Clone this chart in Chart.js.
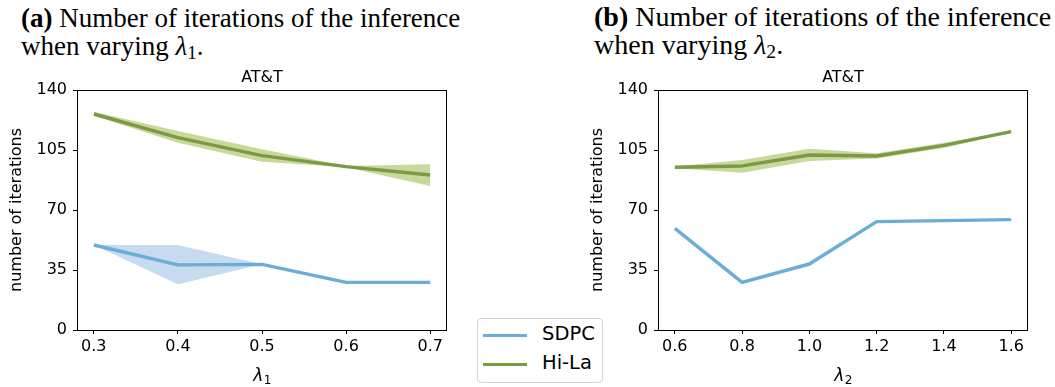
<!DOCTYPE html>
<html>
<head>
<meta charset="utf-8">
<script src="https://cdn.jsdelivr.net/npm/chart.js@4.4.1/dist/chart.umd.min.js"></script>
<style>
  html, body { margin: 0; padding: 0; background: #fff; }
  body { width: 1055px; height: 387px; position: relative; overflow: hidden; }
  .cap { position: absolute; font-family: "Liberation Serif", "Times New Roman", serif; font-size: 27px; line-height: 28px; color: #000; white-space: nowrap; }
  .cap b { font-weight: bold; }
  .cap sub { font-size: 0.7em; vertical-align: -0.2em; line-height: 0; }
  canvas { position: absolute; }
  #legend { position: absolute; left: 477px; top: 318px; width: 124px; height: 63px; border: 1px solid #d4d4d4; border-radius: 4px; background: #fff; font-family: "DejaVu Sans", sans-serif; font-size: 19.5px; color: #000; }
  .lg-line { position: absolute; left: 5px; width: 44px; height: 3px; }
  .lg-text { position: absolute; left: 64px; line-height: 22px; }
</style>
</head>
<body>
<div class="cap" id="capA" style="left:21px; top:3.6px;"><b>(a)</b> Number of iterations of the inference<br>when varying <i>λ</i><sub>1</sub>.</div>
<div class="cap" id="capB" style="left:594px; top:3.2px; font-size:28px;"><b>(b)</b> Number of iterations of the inference<br>when varying <i>λ</i><sub>2</sub>.</div>

<canvas id="c1" width="460" height="327" style="left:0px; top:60px; width:460px; height:327px;"></canvas>
<canvas id="c2" width="460" height="327" style="left:581px; top:60px; width:460px; height:327px;"></canvas>

<div id="legend">
  <div class="lg-line" style="top:14.5px; background:#6aaed6;"></div>
  <div class="lg-text" style="top:4px;">SDPC</div>
  <div class="lg-line" style="top:43.5px; background:#7b9a45;"></div>
  <div class="lg-text" style="top:33px;">Hi-La</div>
</div>

<script>
// ---------- data ----------
const seriesNames = ["SDPC", "Hi-La"];
const panelTitle = "AT&T";
const yAxisLabel = "number of iterations";
const yTicks = [0, 35, 70, 105, 140];

// (a) varying lambda1
const xLabel1 = ["λ", "1"];
const lambda1 = [0.3, 0.4, 0.5, 0.6, 0.7];
const sdpc1Mean = [49.6, 38.0, 38.3, 27.8, 27.8];
const sdpc1Low  = [49.6, 26.7, 38.3, 27.8, 27.8];
const sdpc1High = [49.6, 49.6, 38.3, 27.8, 27.8];
const hila1Mean = [126.0, 112.2, 101.7, 95.3, 90.4];
const hila1Low  = [125.0, 109.3, 98.2, 95.0, 84.0];
const hila1High = [127.3, 116.1, 105.4, 95.6, 96.7];

// (b) varying lambda2
const xLabel2 = ["λ", "2"];
const lambda2 = [0.6, 0.8, 1.0, 1.2, 1.4, 1.6];
const sdpc2Mean = [59.3, 27.8, 38.5, 63.2, 63.8, 64.4];
const sdpc2Low  = [59.3, 27.8, 38.5, 63.2, 63.8, 64.4];
const sdpc2High = [59.3, 27.8, 38.5, 63.2, 63.8, 64.4];
const hila2Mean = [94.9, 95.7, 102.1, 101.5, 107.7, 115.7];
const hila2Low  = [94.4, 91.8, 98.6, 100.0, 106.2, 115.4];
const hila2High = [95.4, 99.2, 105.8, 103.1, 109.3, 116.0];

// ---------- styling ----------
const BLUE = "#6aaed6", BLUE_BAND = "#c6dbef";
const GREEN = "#7b9a45", GREEN_BAND = "#c9d99c";
const FONT = "DejaVu Sans";

const pts = (xs, ys) => xs.map((x, i) => ({ x: x, y: ys[i] }));

const framePlugin = {
  id: "frame",
  afterDatasetsDraw(chart) {
    const a = chart.chartArea, ctx = chart.ctx;
    ctx.save();
    ctx.strokeStyle = "#000";
    ctx.lineWidth = 1;
    ctx.strokeRect(Math.round(a.left) + 0.5, Math.round(a.top) + 0.5,
                   Math.round(a.right - a.left) - 1, Math.round(a.bottom - a.top));
    ctx.restore();
  }
};

// x-axis label with a real subscript (math-style), drawn below the x scale
const subLabelPlugin = {
  id: "subLabel",
  afterDraw(chart, args, opts) {
    const parts = opts.parts;
    if (!parts) return;
    const a = chart.chartArea, ctx = chart.ctx;
    const xs = chart.scales.x;
    ctx.save();
    ctx.fillStyle = "#000";
    ctx.textBaseline = "alphabetic";
    ctx.textAlign = "left";
    const mainFont = "italic 17px '" + FONT + "'";
    const subFont = "12px '" + FONT + "'";
    ctx.font = mainFont; const w1 = ctx.measureText(parts[0]).width;
    ctx.font = subFont;  const w2 = ctx.measureText(parts[1]).width;
    const cx = (a.left + a.right) / 2;
    const x0 = cx - (w1 + w2) / 2;
    const base = xs.bottom - 6.3;
    ctx.font = mainFont; ctx.fillText(parts[0], x0, base);
    ctx.font = subFont;  ctx.fillText(parts[1], x0 + w1 + 0.5, base + 3.2);
    ctx.restore();
  }
};

function makeChart(id, xs, sMean, sLow, sHigh, hMean, hLow, hHigh, xLabel) {
  const span = xs[xs.length - 1] - xs[0];
  const line = (label, data, color, order) => ({
    label, data, borderColor: color, borderWidth: 3.4, pointRadius: 0,
    borderJoinStyle: "round", fill: false, tension: 0, order
  });
  const band = (label, data, fill, color, order) => ({
    label, data, borderWidth: 0, borderColor: "rgba(0,0,0,0)", pointRadius: 0,
    fill, backgroundColor: color, tension: 0, order
  });
  return new Chart(document.getElementById(id), {
    type: "line",
    data: {
      datasets: [
        line(seriesNames[0], pts(xs, sMean), BLUE, 1),
        line(seriesNames[1], pts(xs, hMean), GREEN, 0),
        band("sLow", pts(xs, sLow), false, BLUE_BAND, 5),
        band("sHigh", pts(xs, sHigh), 2, BLUE_BAND, 4),
        band("hLow", pts(xs, hLow), false, GREEN_BAND, 3),
        band("hHigh", pts(xs, hHigh), 4, GREEN_BAND, 2)
      ]
    },
    options: {
      responsive: false,
      animation: false,
      devicePixelRatio: 1,
      layout: { padding: { left: 0, right: 13, top: 0, bottom: 0 } },
      plugins: {
        legend: { display: false },
        tooltip: { enabled: false },
        subLabel: { parts: xLabel },
        title: {
          display: true, text: panelTitle, fullSize: false, color: "#000",
          font: { family: FONT, size: 16, weight: "normal", lineHeight: 1.2 },
          padding: { top: 8.4, bottom: 2.4 }
        }
      },
      scales: {
        x: {
          type: "linear",
          min: xs[0] - 0.05 * span,
          max: xs[xs.length - 1] + 0.05 * span,
          afterBuildTicks: (s) => { s.ticks = xs.map(v => ({ value: v })); },
          afterFit: (s) => { s.height = 57; },
          ticks: {
            color: "#000", padding: 3.7, maxRotation: 0, autoSkip: false,
            font: { family: FONT, size: 16, lineHeight: 1.2 },
            callback: (v) => Number(v).toFixed(1)
          },
          grid: { drawOnChartArea: false, drawTicks: true, tickLength: 4, color: "#000", lineWidth: 1 },
          border: { display: false },
          title: { display: false }
        },
        y: {
          type: "linear", min: 0, max: 140,
          afterBuildTicks: (s) => { s.ticks = yTicks.map(v => ({ value: v })); },
          afterFit: (s) => { s.width = 77; },
          ticks: { color: "#000", padding: 6, font: { family: FONT, size: 16, lineHeight: 1.2 } },
          grid: { drawOnChartArea: false, drawTicks: true, tickLength: 4, color: "#000", lineWidth: 1 },
          border: { display: false },
          title: {
            display: true, text: yAxisLabel, color: "#000",
            font: { family: FONT, size: 16, lineHeight: 1.2 },
            padding: { top: 7.4, bottom: 0 }
          }
        }
      }
    },
    plugins: [framePlugin, subLabelPlugin]
  });
}

makeChart("c1", lambda1, sdpc1Mean, sdpc1Low, sdpc1High, hila1Mean, hila1Low, hila1High, xLabel1);
makeChart("c2", lambda2, sdpc2Mean, sdpc2Low, sdpc2High, hila2Mean, hila2Low, hila2High, xLabel2);
</script>
</body>
</html>
